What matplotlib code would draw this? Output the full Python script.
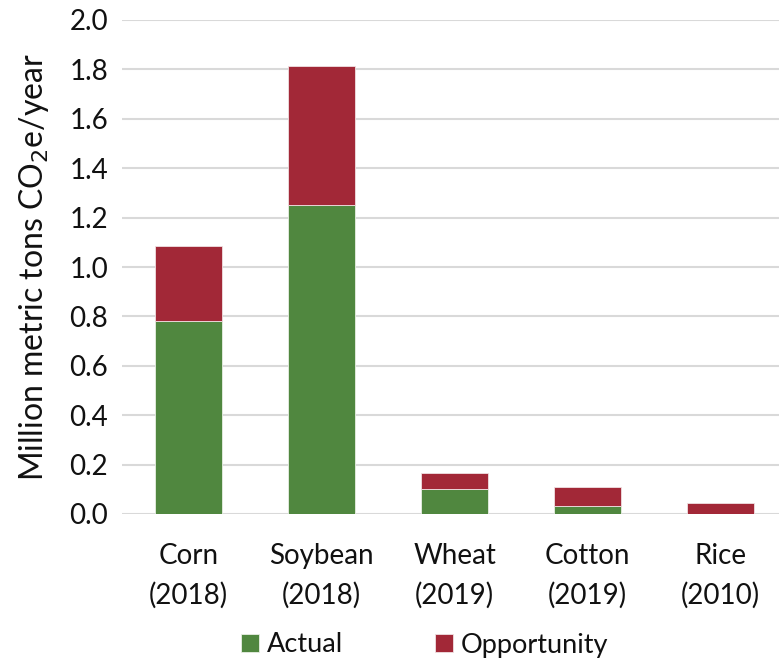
import matplotlib
matplotlib.use("Agg")
import matplotlib.pyplot as plt
import numpy as np

plt.rcParams['font.family'] = ['Lato', 'DejaVu Sans']

crops = ["Corn\n(2018)", "Soybean\n(2018)", "Wheat\n(2019)", "Cotton\n(2019)", "Rice\n(2010)"]
actual = [0.78, 1.25, 0.10, 0.033, 0.0]
opportunity = [0.305, 0.565, 0.068, 0.077, 0.044]
yticks = [0.0, 0.2, 0.4, 0.6, 0.8, 1.0, 1.2, 1.4, 1.6, 1.8, 2.0]

green = "#50873f"
red = "#a22837"

W, H = 779, 664
fig = plt.figure(figsize=(W / 100, H / 100), dpi=100)
ax = fig.add_axes([122 / W, (H - 514) / H, (W - 122) / W, 494 / H])

x = np.arange(len(crops))
ax.bar(x, actual, width=0.5, color=green, edgecolor="#e8efe4", linewidth=0.6,
       label="Actual", zorder=3)
ax.bar(x, opportunity, width=0.5, bottom=actual, color=red, edgecolor="#f0e0e2",
       linewidth=0.6, label="Opportunity", zorder=3)

ax.set_xlim(-0.5, (W - 122) / 133 - 0.5)
ax.set_ylim(0, 2.0)
ax.set_yticks(yticks)
ax.set_yticklabels([f"{v:.1f}" for v in yticks])
ax.set_xticks(x)
ax.set_xticklabels(crops, linespacing=1.6)

ax.yaxis.grid(True, color="#d9d9d9", linewidth=1.5, zorder=0)
ax.set_axisbelow(True)
for s in ax.spines.values():
    s.set_visible(False)
ax.tick_params(axis="both", length=0, labelsize=20, colors="#111111")
ax.tick_params(axis="y", pad=10)
ax.tick_params(axis="x", pad=21)

ax.set_ylabel("Million metric tons CO$_2$e/year", fontsize=23, color="#111111")
ax.yaxis.set_label_coords(-0.108, 0.5)

fig.legend(loc="center", bbox_to_anchor=(425 / W, 1 - 645 / H), ncol=2,
           frameon=False, fontsize=19.5, handlelength=0.65, handleheight=0.65,
           handletextpad=0.3, columnspacing=3.4, labelcolor="#111111")

fig.savefig("out.png", dpi=100, facecolor="white")
